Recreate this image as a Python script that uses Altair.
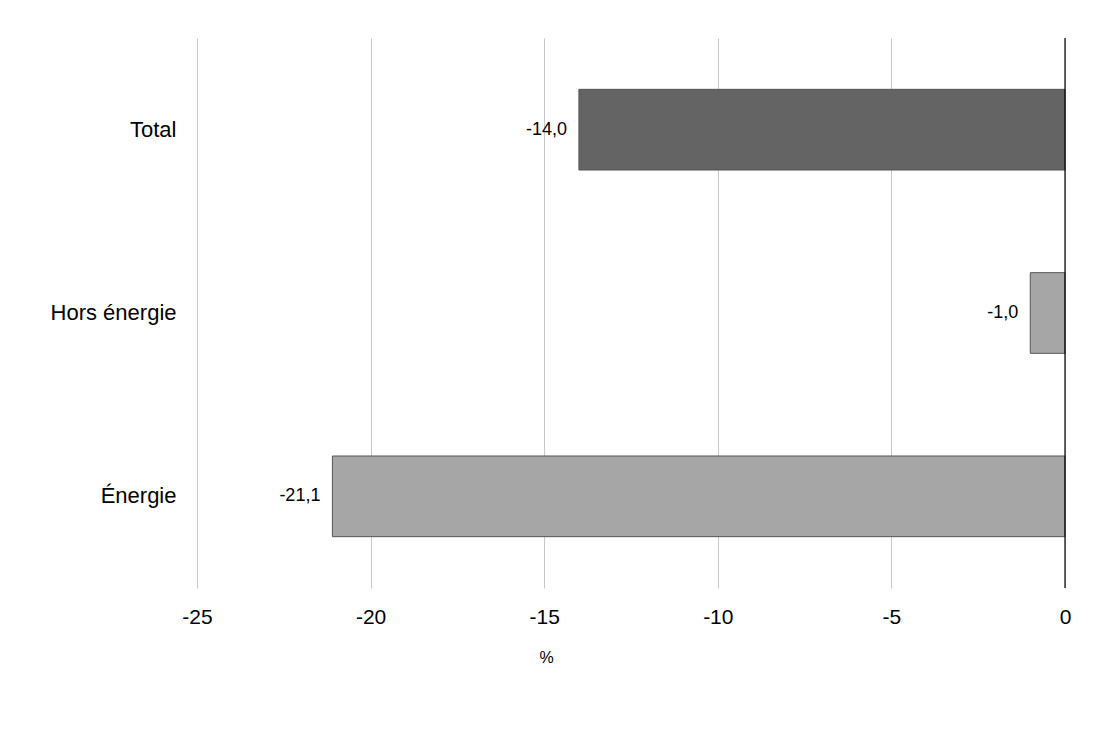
import altair as alt
import pandas as pd

categories = ["Total", "Hors énergie", "Énergie"]
values = [-14.0, -1.0, -21.1]
labels = ["-14,0", "-1,0", "-21,1"]
colors = ["#646464", "#a6a6a6", "#a6a6a6"]
ticks = [-25, -20, -15, -10, -5, 0]

df = pd.DataFrame({"cat": categories, "val": values, "lab": labels, "col": colors})

font = "Liberation Sans"

y_enc = alt.Y("cat:N", sort=categories, title=None,
              scale=alt.Scale(paddingInner=0.56, paddingOuter=0.28),
              axis=alt.Axis(labelFontSize=22, labelFont=font, labelColor="black",
                            ticks=False, domain=False, labelPadding=21))
x_enc = alt.X("val:Q", title="%",
              scale=alt.Scale(domain=[-25, 0], nice=False),
              axis=alt.Axis(values=ticks, labelFontSize=21, labelFlush=False,
                            labelExpr="toString(datum.value)",
                            labelFont=font, labelColor="black", ticks=False, domain=False,
                            grid=True, gridColor="#c8c8c8", gridWidth=1,
                            labelPadding=18, titleFont=font, titleFontSize=16,
                            titleFontWeight="normal", titleColor="black",
                            titleX=349, titleAlign="center", titlePadding=22))

bars = alt.Chart(df).mark_bar(stroke="#555555", strokeWidth=1).encode(
    x=x_enc, y=y_enc, color=alt.Color("col:N", scale=None)
)

text = alt.Chart(df).mark_text(align="right", dx=-12, fontSize=18, font=font, color="black").encode(
    x="val:Q", y=alt.Y("cat:N", sort=categories), text="lab:N"
)

zero = alt.Chart(pd.DataFrame({"z": [0]})).mark_rule(color="black", strokeWidth=1.2).encode(x="z:Q")

chart = alt.layer(bars, text, zero).properties(
    width=868, height=550,
    autosize=alt.AutoSizeParams(type="none"),
    padding={"left": 189, "top": 30, "right": 20, "bottom": 120},
).configure_view(stroke=None)

chart.save("out.html", embed_options={"renderer": "svg", "actions": False})
